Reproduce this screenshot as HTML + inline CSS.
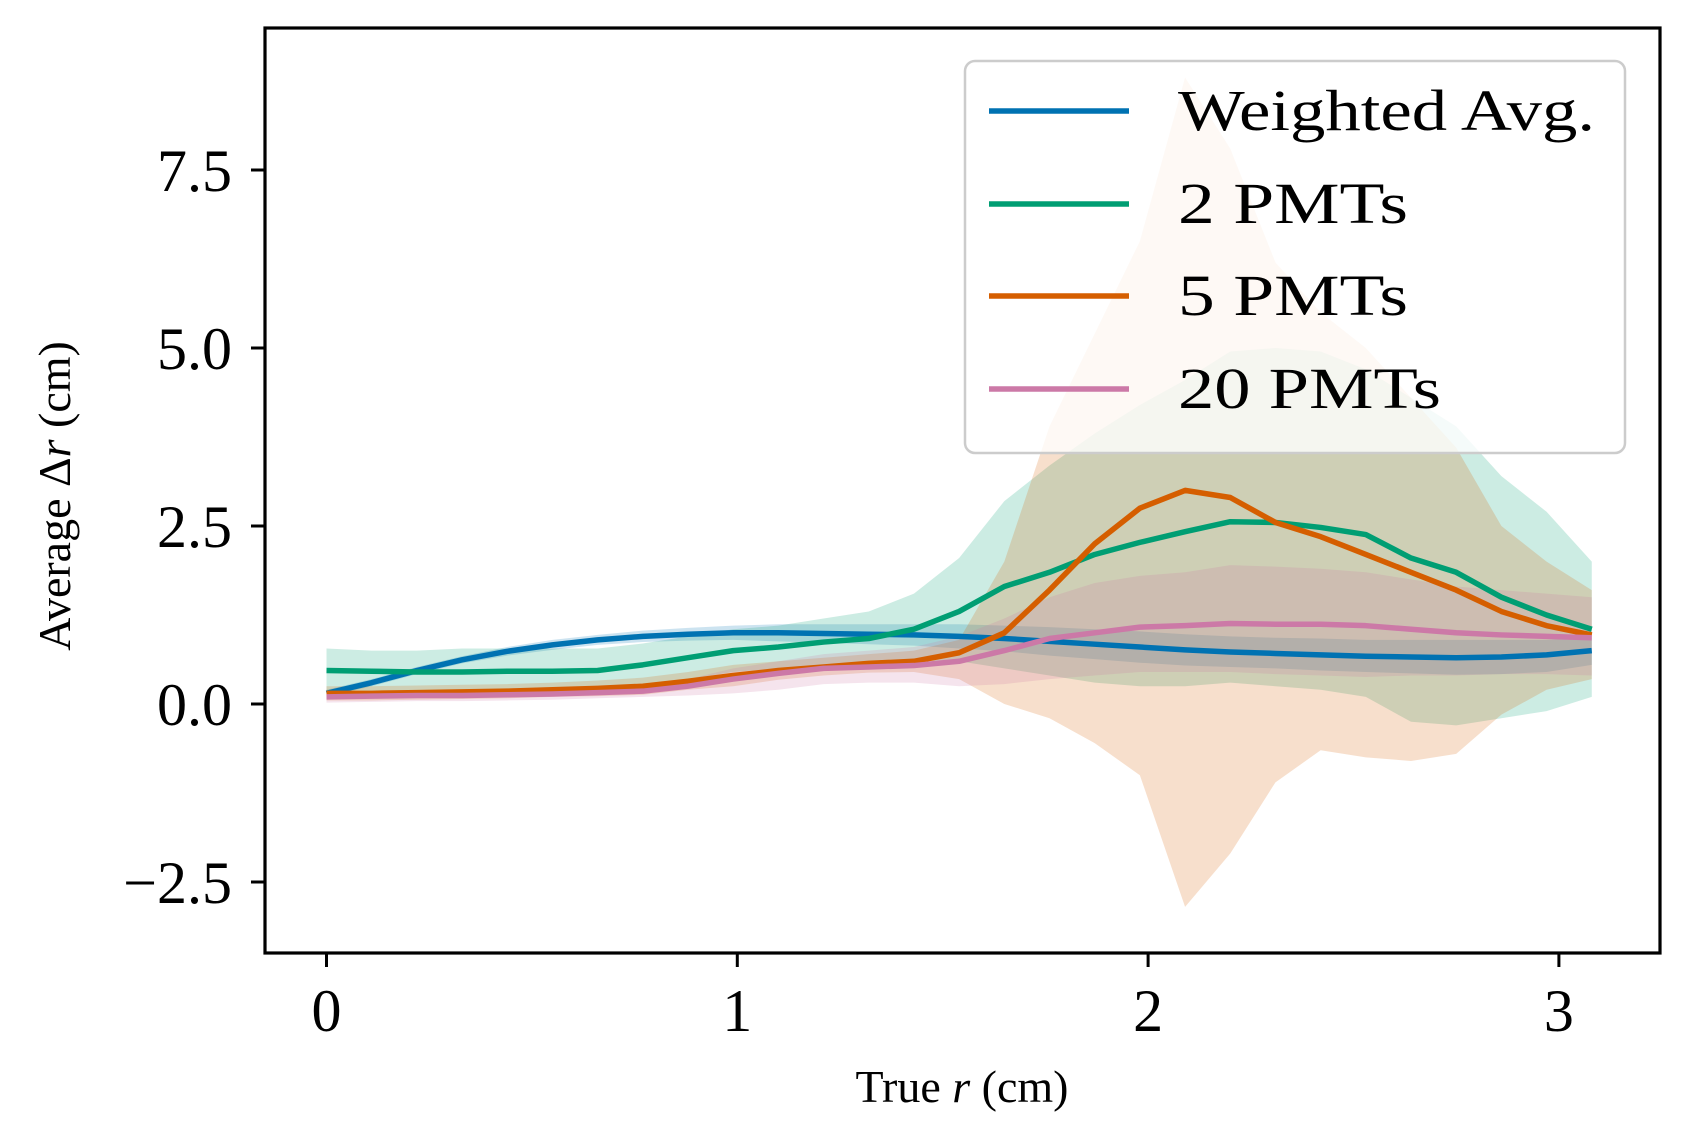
<!DOCTYPE html>
<html><head><meta charset="utf-8"><style>body{margin:0;background:#fff}svg{display:block}text{font-family:"Liberation Serif",serif;fill:#000}</style></head>
<body>
<svg id="chart" width="1689" height="1142" viewBox="0 0 1689 1142" xmlns="http://www.w3.org/2000/svg">
<g id="bands"></g>
<g id="lines"></g>
<rect x="265" y="28" width="1395" height="925" fill="none" stroke="#000" stroke-width="3.2"/>
<g id="ticks"></g>
<text x="962" y="1102" font-size="46" text-anchor="middle">True <tspan font-style="italic">r</tspan> (cm)</text>
<text transform="translate(70,496) rotate(-90)" font-size="46" text-anchor="middle">Average Δ<tspan font-style="italic">r</tspan> (cm)</text>
<g>
<rect x="965" y="61" width="660" height="392" rx="10" fill="#fff" fill-opacity="0.8" stroke="#ccc" stroke-width="2.5"/>
<line x1="989" x2="1129" y1="111" y2="111" stroke="#0072b2" stroke-width="5.5"/>
<text x="1178" y="130" font-size="58" textLength="417" lengthAdjust="spacingAndGlyphs">Weighted Avg.</text>
<line x1="989" x2="1129" y1="204" y2="204" stroke="#009e73" stroke-width="5.5"/>
<text x="1178" y="223" font-size="58" textLength="230" lengthAdjust="spacingAndGlyphs">2 PMTs</text>
<line x1="989" x2="1129" y1="296" y2="296" stroke="#d55e00" stroke-width="5.5"/>
<text x="1178" y="315" font-size="58" textLength="230" lengthAdjust="spacingAndGlyphs">5 PMTs</text>
<line x1="989" x2="1129" y1="389" y2="389" stroke="#cc79a7" stroke-width="5.5"/>
<text x="1178" y="408" font-size="58" textLength="263" lengthAdjust="spacingAndGlyphs">20 PMTs</text>
</g>
</svg>
<script>
const nPts = 29;
const xStep = 0.11;
const xTicks = [0,1,2,3];
const yTicks = [-2.5,0.0,2.5,5.0,7.5];
const yTickLabels = ["\u22122.5","0.0","2.5","5.0","7.5"];
const blueMean = [0.15,0.3,0.47,0.62,0.74,0.83,0.9,0.95,0.98,1.0,1.0,0.99,0.98,0.97,0.95,0.92,0.88,0.84,0.8,0.76,0.73,0.71,0.69,0.67,0.66,0.65,0.66,0.69,0.75];
const blueUp = [0.2,0.35,0.52,0.67,0.8,0.9,0.97,1.03,1.07,1.1,1.12,1.12,1.12,1.12,1.12,1.1,1.08,1.05,1.02,0.98,0.95,0.93,0.92,0.9,0.9,0.9,0.9,0.9,0.93];
const blueLow = [0.1,0.25,0.42,0.57,0.68,0.76,0.83,0.87,0.89,0.9,0.88,0.86,0.84,0.82,0.78,0.74,0.68,0.63,0.58,0.54,0.52,0.5,0.47,0.45,0.43,0.41,0.42,0.45,0.55];
const greenMean = [0.47,0.46,0.45,0.45,0.46,0.46,0.47,0.55,0.65,0.75,0.8,0.87,0.92,1.05,1.3,1.65,1.85,2.1,2.27,2.42,2.56,2.55,2.48,2.38,2.05,1.85,1.5,1.25,1.05];
const greenUp = [0.78,0.75,0.75,0.78,0.78,0.78,0.78,0.85,0.95,1.05,1.1,1.2,1.3,1.55,2.05,2.85,3.35,3.8,4.2,4.55,4.95,5.0,4.95,4.7,4.3,3.9,3.2,2.7,2.0];
const greenLow = [0.17,0.18,0.17,0.15,0.15,0.16,0.17,0.25,0.35,0.45,0.5,0.55,0.55,0.6,0.6,0.5,0.4,0.3,0.25,0.25,0.3,0.25,0.2,0.1,-0.25,-0.3,-0.2,-0.1,0.1];
const orangeMean = [0.15,0.15,0.16,0.17,0.18,0.2,0.22,0.25,0.32,0.4,0.47,0.52,0.57,0.6,0.72,1.0,1.6,2.25,2.75,3.0,2.9,2.55,2.35,2.1,1.85,1.6,1.3,1.1,0.97];
const orangeUp = [0.25,0.25,0.26,0.27,0.28,0.3,0.33,0.37,0.45,0.55,0.6,0.65,0.7,0.75,0.9,2.0,3.9,5.2,6.5,8.8,7.8,6.2,5.5,5.0,4.3,3.6,2.5,2.0,1.6];
const orangeLow = [0.05,0.05,0.06,0.07,0.08,0.1,0.11,0.13,0.2,0.25,0.34,0.4,0.44,0.45,0.35,0.0,-0.2,-0.55,-1.0,-2.85,-2.1,-1.1,-0.65,-0.75,-0.8,-0.7,-0.15,0.2,0.35];
const pinkMean = [0.1,0.11,0.12,0.12,0.13,0.14,0.16,0.18,0.25,0.35,0.43,0.5,0.52,0.54,0.6,0.75,0.92,1.0,1.08,1.1,1.13,1.12,1.12,1.1,1.05,1.0,0.97,0.95,0.93];
const pinkUp = [0.15,0.16,0.17,0.18,0.19,0.2,0.23,0.26,0.35,0.5,0.6,0.7,0.75,0.8,0.95,1.2,1.5,1.7,1.8,1.85,1.95,1.93,1.9,1.85,1.75,1.65,1.6,1.55,1.5];
const pinkLow = [0.02,0.03,0.04,0.04,0.05,0.06,0.08,0.1,0.12,0.15,0.2,0.28,0.3,0.3,0.25,0.28,0.35,0.4,0.45,0.45,0.45,0.42,0.4,0.38,0.4,0.4,0.42,0.42,0.4];

const NS = "http://www.w3.org/2000/svg";
const X = v => 326.5 + 410.8 * v;
const Y = v => 704 - 71.2 * v;
const xs = Array.from({length: nPts}, (_, i) => i * xStep);
const series = [
  {name:"weighted", c:"#0072b2", m:blueMean, u:blueUp, l:blueLow},
  {name:"2pmt", c:"#009e73", m:greenMean, u:greenUp, l:greenLow},
  {name:"5pmt", c:"#d55e00", m:orangeMean, u:orangeUp, l:orangeLow},
  {name:"20pmt", c:"#cc79a7", m:pinkMean, u:pinkUp, l:pinkLow}
];
const bands = document.getElementById('bands');
const lines = document.getElementById('lines');
series.forEach(s => {
  const n = Math.min(s.u.length, s.l.length, xs.length);
  let pts = [];
  for (let i = 0; i < n; i++) pts.push(X(xs[i]) + ',' + Y(s.u[i]));
  for (let i = n - 1; i >= 0; i--) pts.push(X(xs[i]) + ',' + Y(s.l[i]));
  const p = document.createElementNS(NS, 'polygon');
  p.setAttribute('points', pts.join(' '));
  p.setAttribute('fill', s.c);
  p.setAttribute('fill-opacity', '0.2');
  
  
  bands.appendChild(p);
});
series.forEach(s => {
  const pl = document.createElementNS(NS, 'polyline');
  pl.setAttribute('points', s.m.map((v, i) => X(xs[i]) + ',' + Y(v)).join(' '));
  pl.setAttribute('fill', 'none');
  pl.setAttribute('stroke', s.c);
  pl.setAttribute('stroke-width', '5.5');
  pl.setAttribute('stroke-linejoin', 'round');
  
  
  lines.appendChild(pl);
});
const ticks = document.getElementById('ticks');
xTicks.forEach(t => {
  const l = document.createElementNS(NS, 'line');
  l.setAttribute('x1', X(t)); l.setAttribute('x2', X(t));
  l.setAttribute('y1', 953); l.setAttribute('y2', 967);
  l.setAttribute('stroke', '#000'); l.setAttribute('stroke-width', '3');
  
  
  ticks.appendChild(l);
  const tx = document.createElementNS(NS, 'text');
  tx.setAttribute('x', X(t)); tx.setAttribute('y', 1031);
  tx.setAttribute('font-size', '60'); tx.setAttribute('text-anchor', 'middle');
  tx.textContent = String(t);
  
  
  ticks.appendChild(tx);
});
yTicks.forEach((t, i) => {
  const l = document.createElementNS(NS, 'line');
  l.setAttribute('x1', 251); l.setAttribute('x2', 265);
  l.setAttribute('y1', Y(t)); l.setAttribute('y2', Y(t));
  l.setAttribute('stroke', '#000'); l.setAttribute('stroke-width', '3');
  
  
  ticks.appendChild(l);
  const tx = document.createElementNS(NS, 'text');
  tx.setAttribute('x', 232); tx.setAttribute('y', Y(t) + 21);
  tx.setAttribute('font-size', '60'); tx.setAttribute('text-anchor', 'end');
  tx.textContent = yTickLabels[i];
  
  
  ticks.appendChild(tx);
});
</script>
</body></html>
